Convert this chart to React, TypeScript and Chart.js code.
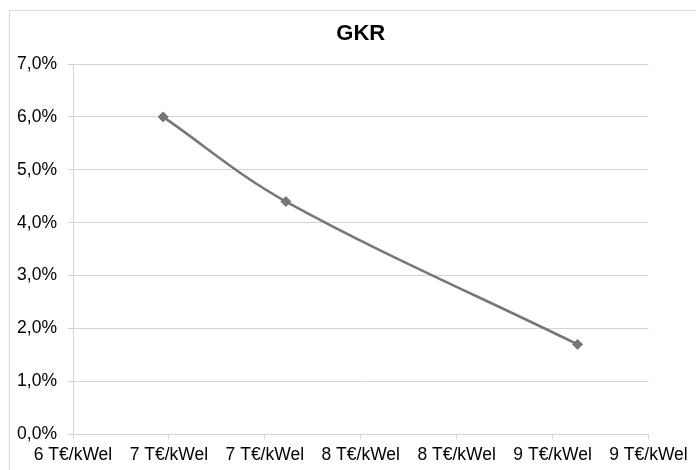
import React, { useEffect, useRef } from "react";
import { Chart, registerables } from "chart.js";

Chart.register(...registerables);

const titleText = "GKR";
const costValues = [6.47, 7.11, 8.63]; // T€/kWel
const rateValues = [6.0, 4.4, 1.7]; // %
const xMin = 6;
const xMax = 9;
const xStep = 0.5;
const yMin = 0;
const yMax = 7;
const yStep = 1;
const xUnit = " T€/kWel";

const FONT = "'Liberation Sans', Arial, sans-serif";
const GRID = "#d4d4d4";
const LINE = "#777777";

const borderPlugin = {
  id: "outerBorder",
  beforeDraw(chart: any) {
    const ctx = chart.ctx;
    ctx.save();
    ctx.strokeStyle = "#d9d9d9";
    ctx.lineWidth = 1;
    ctx.strokeRect(9.5, 10.5, 800, 600);
    ctx.restore();
  },
};

export default function App() {
  const ref = useRef<HTMLCanvasElement | null>(null);

  useEffect(() => {
    if (!ref.current) return;
    const points = costValues.map((x, i) => ({ x, y: rateValues[i] }));
    const chart = new Chart(ref.current, {
      type: "line",
      data: {
        datasets: [
          {
            data: points,
            borderColor: LINE,
            backgroundColor: LINE,
            borderWidth: 2.5,
            tension: 0.35,
            pointStyle: "rectRot",
            pointRadius: 5,
            pointBorderWidth: 1,
            pointBackgroundColor: LINE,
            pointBorderColor: LINE,
            fill: false,
          },
        ],
      },
      options: {
        animation: false,
        responsive: true,
        maintainAspectRatio: false,
        devicePixelRatio: 1,
        layout: { padding: { left: 0, right: 47.5, top: 0, bottom: 0 } },
        plugins: {
          legend: { display: false },
          tooltip: { enabled: false },
          title: {
            display: true,
            text: titleText,
            fullSize: false,
            color: "#000",
            font: { family: FONT, size: 22, weight: "bold" },
            padding: { top: 20.5, bottom: 17.1 },
          },
        },
        scales: {
          x: {
            type: "linear",
            min: xMin,
            max: xMax,
            afterFit(scale: any) {
              scale.height = 35.7;
            },
            ticks: {
              stepSize: xStep,
              autoSkip: false,
              maxRotation: 0,
              minRotation: 0,
              padding: 5,
              color: "#000",
              font: { family: FONT, size: 17.5 },
              callback: (v: any) => Math.round(Number(v)) + xUnit,
            },
            grid: {
              drawOnChartArea: false,
              drawTicks: true,
              tickLength: 5,
              color: GRID,
            },
            border: { color: GRID, width: 1 },
          },
          y: {
            type: "linear",
            min: yMin,
            max: yMax,
            afterFit(scale: any) {
              scale.width = 73;
            },
            ticks: {
              stepSize: yStep,
              padding: 11,
              color: "#000",
              font: { family: FONT, size: 17.5 },
              callback: (v: any) => Number(v).toFixed(1).replace(".", ",") + "%",
            },
            grid: {
              color: GRID,
              drawTicks: true,
              tickLength: 5,
            },
            border: { color: GRID, width: 1 },
          },
        },
      },
      plugins: [borderPlugin],
    });
    return () => chart.destroy();
  }, []);

  return (
    <div
      style={{
        position: "absolute",
        left: 0,
        top: 0,
        width: 696,
        height: 470,
        background: "#fff",
      }}
    >
      <canvas ref={ref} />
    </div>
  );
}
